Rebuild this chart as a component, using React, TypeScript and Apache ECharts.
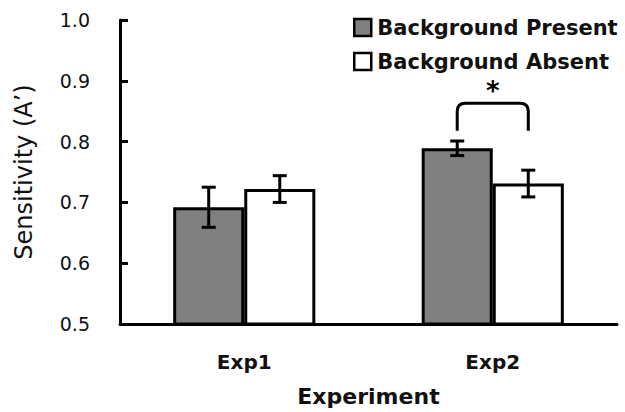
import React, { useEffect, useRef } from "react";
import * as echarts from "echarts";

const categories = ["Exp1", "Exp2"];
const seriesNames = ["Background Present", "Background Absent"];
const presentValues = [0.692, 0.789];
const absentValues = [0.722, 0.731];
const presentErrors = [0.033, 0.012];
const absentErrors = [0.022, 0.022];
const yTicks = { min: 0.5, max: 1.0, interval: 0.1 };
const bracketCategory = 1;
const bracketLow = 0.818;
const bracketHigh = 0.863;
const starValue = 0.884;
const starLabel = "*";

const BAR_FRAC = 0.286;

export default function App() {
  const ref = useRef<HTMLDivElement>(null);
  useEffect(() => {
    if (!ref.current) return;
    const chart = echarts.init(ref.current, null, { renderer: "svg" });

    const errData = (vals: number[], errs: number[]) =>
      vals.map((v, i) => [i, v - errs[i], v + errs[i]]);

    const makeErr = (name: string, sign: number, vals: number[], errs: number[]) => ({
      type: "custom",
      name: name + " error",
      silent: true,
      z: 5,
      data: errData(vals, errs),
      renderItem: (params: any, api: any) => {
        const band = api.size([1, 0])[0];
        const off = (sign * band * BAR_FRAC) / 2;
        const lo = api.coord([api.value(0), api.value(1)]);
        const hi = api.coord([api.value(0), api.value(2)]);
        const x = lo[0] + off;
        const cap = 7;
        const st = { stroke: "#000", lineWidth: 3 };
        return {
          type: "group",
          children: [
            { type: "line", shape: { x1: x, y1: lo[1], x2: x, y2: hi[1] }, style: st },
            { type: "line", shape: { x1: x - cap, y1: lo[1], x2: x + cap, y2: lo[1] }, style: st },
            { type: "line", shape: { x1: x - cap, y1: hi[1], x2: x + cap, y2: hi[1] }, style: st },
          ],
        };
      },
    });

    const option: any = {
      animation: false,
      backgroundColor: "#fff",
      grid: { left: 120, right: 8, top: 20, bottom: 82 },
      legend: {
        orient: "vertical",
        left: 348,
        top: 12,
        itemWidth: 17,
        itemHeight: 17,
        itemGap: 13,
        data: seriesNames,
        icon: "rect",
        itemStyle: { borderColor: "#000", borderWidth: 2.5 },
        textStyle: {
          fontFamily: "DejaVu Sans",
          fontWeight: "bold",
          fontSize: 21,
          color: "#111",
          padding: [0, 0, 0, 1],
        },
      },
      xAxis: {
        type: "category",
        data: categories,
        name: "Experiment",
        nameLocation: "middle",
        nameGap: 61,
        nameTextStyle: { fontFamily: "DejaVu Sans", fontWeight: "bold", fontSize: 22, color: "#111" },
        axisLine: { lineStyle: { color: "#000", width: 3 } },
        axisTick: { show: false },
        axisLabel: { margin: 28, fontFamily: "DejaVu Sans", fontWeight: "bold", fontSize: 20, color: "#111" },
      },
      yAxis: {
        type: "value",
        min: yTicks.min,
        max: yTicks.max,
        interval: yTicks.interval,
        name: "Sensitivity (A\u2019)",
        nameLocation: "middle",
        nameGap: 84,
        nameTextStyle: { fontFamily: "DejaVu Sans", fontSize: 24, color: "#111" },
        axisLine: { show: true, lineStyle: { color: "#000", width: 3 } },
        axisTick: { show: true, inside: true, length: 8, lineStyle: { color: "#000", width: 3 } },
        splitLine: { show: false },
        axisLabel: {
          margin: 30,
          fontFamily: "DejaVu Sans",
          fontSize: 19,
          color: "#111",
          formatter: (v: number) => v.toFixed(1),
        },
      },
      series: [
        {
          type: "bar",
          name: seriesNames[0],
          data: presentValues,
          barWidth: BAR_FRAC * 100 + "%",
          barGap: "0%",
          itemStyle: { color: "#808080", borderColor: "#000", borderWidth: 3 },
        },
        {
          type: "bar",
          name: seriesNames[1],
          data: absentValues,
          barWidth: BAR_FRAC * 100 + "%",
          barGap: "0%",
          itemStyle: { color: "#ffffff", borderColor: "#000", borderWidth: 3 },
        },
        makeErr(seriesNames[0], -1, presentValues, presentErrors),
        makeErr(seriesNames[1], 1, absentValues, absentErrors),
        {
          type: "custom",
          name: "significance",
          silent: true,
          z: 6,
          data: [[bracketCategory, bracketLow, bracketHigh, starValue]],
          renderItem: (params: any, api: any) => {
            const band = api.size([1, 0])[0];
            const off = (band * BAR_FRAC) / 2;
            const c = api.value(0);
            const lo = api.coord([c, api.value(1)]);
            const hi = api.coord([c, api.value(2)]);
            const st = api.coord([c, api.value(3)]);
            const xl = lo[0] - off;
            const xr = lo[0] + off;
            const r = 8;
            const d =
              `M ${xl} ${lo[1]} L ${xl} ${hi[1] + r} Q ${xl} ${hi[1]} ${xl + r} ${hi[1]} ` +
              `L ${xr - r} ${hi[1]} Q ${xr} ${hi[1]} ${xr} ${hi[1] + r} L ${xr} ${lo[1]}`;
            return {
              type: "group",
              children: [
                {
                  type: "path",
                  shape: { pathData: d },
                  style: { fill: "none", stroke: "#000", lineWidth: 3 },
                },
                {
                  type: "text",
                  x: lo[0],
                  y: st[1],
                  style: {
                    text: starLabel,
                    align: "center",
                    verticalAlign: "middle",
                    fontFamily: "DejaVu Sans",
                    fontWeight: "bold",
                    fontSize: 26,
                    fill: "#000",
                  },
                },
              ],
            };
          },
        },
      ],
    };
    chart.setOption(option);
    return () => chart.dispose();
  }, []);
  return <div ref={ref} style={{ width: 625, height: 412, position: "absolute", left: 0, top: 0 }} />;
}
